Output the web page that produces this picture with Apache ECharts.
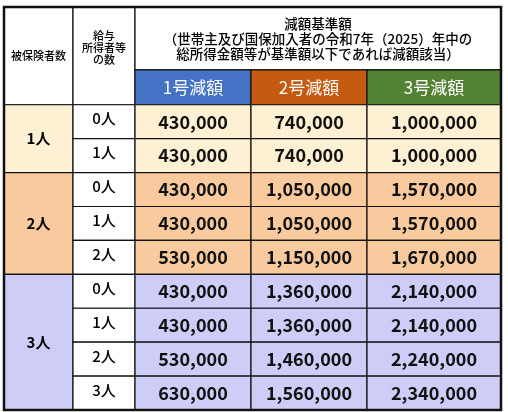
<!DOCTYPE html><html><head><meta charset="utf-8">
<script src="https://cdn.jsdelivr.net/npm/echarts@6/dist/echarts.min.js"></script>
<style>html,body{margin:0;padding:0;background:#fff}#c{width:508px;height:412px}</style></head><body><div id="c"></div>
<script>
const groups = ['1人','2人','3人'];
const earners = [['0人','1人'],['0人','1人','2人'],['0人','1人','2人','3人']];
const types = ['1号減額','2号減額','3号減額'];
const type1 = [430000,430000, 430000,430000,530000, 430000,430000,530000,630000];
const type2 = [740000,740000, 1050000,1050000,1150000, 1360000,1360000,1460000,1560000];
const type3 = [1000000,1000000, 1570000,1570000,1670000, 2140000,2140000,2240000,2340000];
const headLeft = '被保険者数';
const headEarn = '給与\n所得者等\nの数';
const headTitle = '減額基準額\n（世帯主及び国保加入者の令和7年（2025）年中の\n総所得金額等が基準額以下であれば減額該当）';

// layout (not data)
const colX = [0,69,131,247,363,497];
const headY = [0,63,98];
const rowH = 34;
const groupFill = ['#FEF0D2','#F9CA9D','#CDCDF7'];
const typeFill = ['#4472C4','#C55A11','#548235'];
const font = '"Noto Sans CJK JP", sans-serif';

const cells = [];
cells.push({c0:0,c1:1,y0:headY[0],y1:headY[2],text:headLeft,fill:'#fff',color:'#000',size:11,weight:'500'});
cells.push({c0:1,c1:2,y0:headY[0],y1:headY[2],text:headEarn,fill:'#fff',color:'#000',size:11,weight:'500',lh:12,dy:-8});
cells.push({c0:2,c1:5,y0:headY[0],y1:headY[1],text:headTitle,fill:'#fff',color:'#000',size:13.5,weight:'500',lh:15});
types.forEach((t,i)=>cells.push({c0:2+i,c1:3+i,y0:headY[1],y1:headY[2],text:t,fill:typeFill[i],color:'#fff',size:17,weight:'normal'}));
let r = 0;
const vals=[type1,type2,type3];
groups.forEach((g,gi)=>{
  const n = earners[gi].length;
  const y0 = headY[2]+r*rowH;
  cells.push({c0:0,c1:1,y0:y0,y1:y0+n*rowH,text:g,fill:groupFill[gi],color:'#000',size:15,weight:'bold'});
  earners[gi].forEach((e,ei)=>{
    const yy = headY[2]+(r+ei)*rowH;
    cells.push({c0:1,c1:2,y0:yy,y1:yy+rowH,text:e,fill:'#fff',color:'#000',size:15,weight:'500',dy:-3});
    vals.forEach((v,vi)=>cells.push({c0:2+vi,c1:3+vi,y0:yy,y1:yy+rowH,text:v[r+ei].toLocaleString('en-US'),fill:groupFill[gi],color:'#111',size:18,weight:'bold'}));
  });
  r += n;
});
const totalH = headY[2]+r*rowH;

const chart = echarts.init(document.getElementById('c'));
chart.setOption({
  animation:false,
  grid:{left:4,right:7,top:7,bottom:2},
  xAxis:{type:'value',min:0,max:colX[5],show:false},
  yAxis:{type:'value',min:0,max:totalH,inverse:true,show:false},
  series:[{
    type:'custom',
    data:cells.map((c,i)=>[colX[c.c0],c.y0,colX[c.c1],c.y1,i]),
    renderItem:(params,api)=>{
      const c = cells[api.value(4)];
      const p0 = api.coord([api.value(0),api.value(1)]);
      const p1 = api.coord([api.value(2),api.value(3)]);
      return {type:'group',children:[
        {type:'rect',shape:{x:p0[0],y:p0[1],width:p1[0]-p0[0],height:p1[1]-p0[1]},style:{fill:c.fill,stroke:'#111',lineWidth:1.2}},
        {type:'text',x:(p0[0]+p1[0])/2,y:(p0[1]+p1[1])/2+(c.dy||0),style:{text:c.text,fill:c.color,font:`${c.weight} ${c.size}px ${font}`,align:'center',verticalAlign:'middle',lineHeight:c.lh||c.size+2}}
      ]};
    }
  },{
    type:'custom',
    data:[[0,0,colX[5],totalH]],
    renderItem:(params,api)=>{
      const p0=api.coord([api.value(0),api.value(1)]),p1=api.coord([api.value(2),api.value(3)]);
      return {type:'rect',shape:{x:p0[0],y:p0[1],width:p1[0]-p0[0],height:p1[1]-p0[1]},style:{fill:'none',stroke:'#111',lineWidth:2.5}};
    }
  }]
});
</script></body></html>
